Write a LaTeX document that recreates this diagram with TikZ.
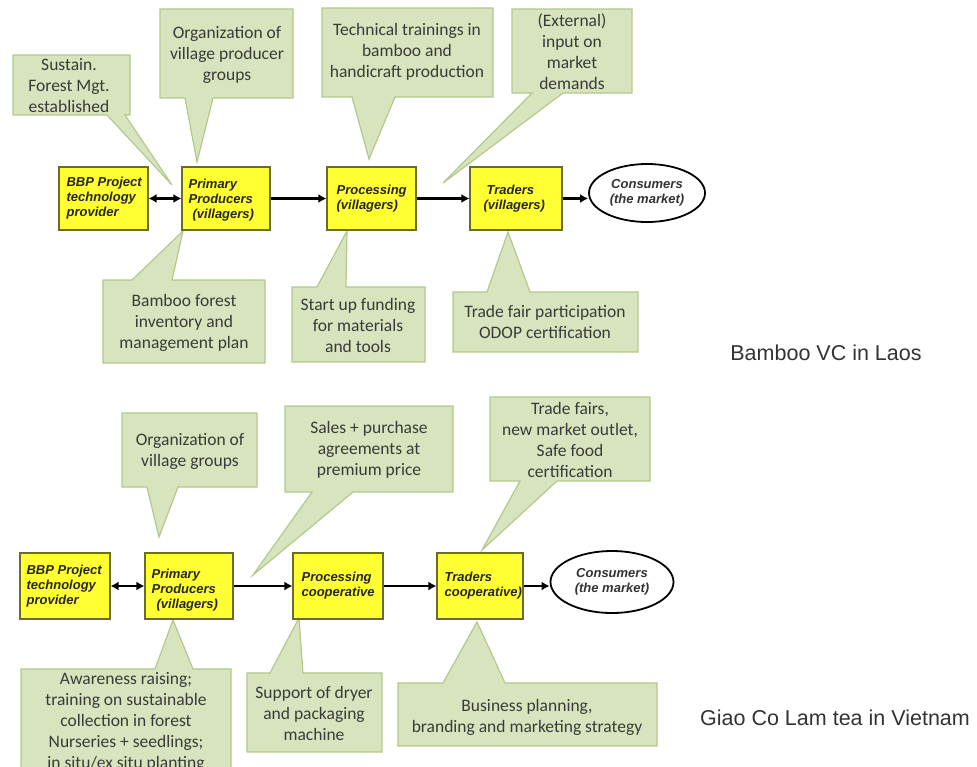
\documentclass[tikz,border=0pt]{standalone}
\usepackage{fontspec}
\setmainfont{Carlito}
\newfontfamily\arialf{Liberation Sans}
\usetikzlibrary{arrows.meta,shapes.geometric}
\definecolor{boxyellow}{HTML}{FFFF33}
\definecolor{boxborder}{HTML}{6B6B2A}
\definecolor{callfill}{HTML}{D7E4BD}
\definecolor{callborder}{HTML}{B3C98C}
\definecolor{calltext}{HTML}{3A3A3A}
\begin{document}
\begin{tikzpicture}[x=1pt,y=-1pt,
  vbox/.style={draw=boxborder, fill=boxyellow, line width=1.2pt, inner sep=0pt},
  vtext/.style={font=\arialf\bfseries\itshape\fontsize{13}{15}\selectfont, text=black!85, align=left, inner sep=0pt, anchor=west},
  callout/.style={fill=callfill, draw=callborder, line width=1.2pt, line join=miter},
  ctext/.style={font=\fontsize{17.5}{21}\selectfont, text=calltext, align=center, inner sep=0pt},
  flow/.style={line width=2.8pt, -{Latex[length=8pt,width=9pt]}},
  biflow/.style={line width=2.8pt, {Latex[length=8pt,width=9pt]}-{Latex[length=8pt,width=9pt]}},
  cons/.style={ellipse, draw=black, line width=1.8pt, fill=white, inner sep=0pt},
  constext/.style={font=\arialf\bfseries\itshape\fontsize{13}{15}\selectfont, text=black!80, align=center, inner sep=0pt},
  side/.style={font=\arialf\fontsize{21.5}{24}\selectfont, text=black!80, inner sep=0pt}
]
\useasboundingbox[fill=white] (0,0) rectangle (977,766);

% ---------- callouts, top diagram ----------
\draw[callout] (13,55) -- (130,55) -- (130,115) -- (125,115) -- (172,185) -- (107,115) -- (13,115) -- cycle;
\node[ctext] (c1) at (69,86) {Sustain.\\Forest Mgt.\\established};

\draw[callout] (160,9) -- (293,9) -- (293,98) -- (213,98) -- (197,162) -- (185,98) -- (160,98) -- cycle;
\node[ctext] (c2) at (227,55) {Organization of\\village producer\\groups};

\draw[callout] (322,8) -- (493,8) -- (493,97) -- (395,97) -- (369,159) -- (352,97) -- (322,97) -- cycle;
\node[ctext] (c3) at (407,52) {Technical trainings in\\bamboo and\\handicraft production};

\draw[callout] (512,9) -- (632,9) -- (632,93) -- (563,93) -- (443,183) -- (532,93) -- (512,93) -- cycle;
\node[ctext] (c4) at (572,52) {(External)\\input on\\market\\demands};

\draw[callout] (103,280) -- (132,280) -- (183,231) -- (172,280) -- (265,280) -- (265,363) -- (103,363) -- cycle;
\node[ctext] (c5) at (184,323) {Bamboo forest\\inventory and\\management plan};

\draw[callout] (292,287) -- (317,287) -- (347,231) -- (346,287) -- (425,287) -- (425,362) -- (292,362) -- cycle;
\node[ctext] (c6) at (358,325) {Start up funding\\for materials\\and tools};

\draw[callout] (453,292) -- (487,292) -- (508,232) -- (530,292) -- (638,292) -- (638,352) -- (453,352) -- cycle;
\node[ctext] (c7) at (545,322) {Trade fair participation\\ODOP certification};

% ---------- callouts, bottom diagram ----------
\draw[callout] (122,413) -- (257,413) -- (257,487) -- (178,487) -- (159,537) -- (147,487) -- (122,487) -- cycle;
\node[ctext] (d1) at (190,451) {Organization of\\village groups};

\draw[callout] (285,406) -- (453,406) -- (453,492) -- (353,492) -- (253,575) -- (312,492) -- (285,492) -- cycle;
\node[ctext] (d2) at (369,450) {Sales + purchase\\agreements at\\premium price};

\draw[callout] (490,397) -- (650,397) -- (650,481) -- (557,481) -- (482,550) -- (520,481) -- (490,481) -- cycle;
\node[ctext] (d3) at (570,440) {Trade fairs,\\new market outlet,\\Safe food\\certification};

\draw[callout] (21,669) -- (155,669) -- (173,620) -- (193,669) -- (231,669) -- (231,790) -- (21,790) -- cycle;
\node[ctext] (d4) at (126,722) {Awareness raising;\\training on sustainable\\collection in forest\\Nurseries + seedlings;\\in situ/ex situ planting};

\draw[callout] (247,673) -- (270,673) -- (299,618) -- (303,673) -- (382,673) -- (382,752) -- (247,752) -- cycle;
\node[ctext] (d5) at (314,713) {Support of dryer\\and packaging\\machine};

\draw[callout] (398,683) -- (443,683) -- (477,622) -- (505,683) -- (657,683) -- (657,746) -- (398,746) -- cycle;
\node[ctext] (d6) at (527,717) {Business planning,\\branding and marketing strategy};

% ---------- top value chain ----------
\node[vbox, minimum width=89pt, minimum height=63pt] (bbp1) at (103.5,198.5) {};
\node[vtext] (bbp1t) at ([xshift=8pt]bbp1.west) {BBP Project\\technology\\provider};
\node[vbox, minimum width=88pt, minimum height=63pt] (pp1) at (226,198.5) {};
\node[vtext] (pp1t) at ([xshift=7pt,yshift=-2pt]pp1.west) {Primary\\Producers\\\hspace*{4pt}(villagers)};
\node[vbox, minimum width=89pt, minimum height=63pt] (proc1) at (371.5,198.5) {};
\node[vtext] (proc1t) at ([xshift=10pt]proc1.west) {Processing\\(villagers)};
\node[vbox, minimum width=92pt, minimum height=63pt] (trad1) at (516,198.5) {};
\node[vtext] (trad1t) at ([xshift=14pt]trad1.west) {\hspace*{3pt}Traders\\(villagers)};
\node[cons, minimum width=116pt, minimum height=58pt] (cons1) at (647,193) {};
\node[constext] (cons1t) at (cons1) {Consumers\\(the market)};

\draw[biflow] (bbp1) -- (pp1);
\draw[flow] (pp1) -- (proc1);
\draw[flow] (proc1) -- (trad1);
\draw[flow] (trad1.east) -- (trad1.east -| cons1.west);

% ---------- bottom value chain ----------
\node[vbox, minimum width=90pt, minimum height=66pt] (bbp2) at (65,586) {};
\node[vtext] (bbp2t) at ([xshift=7pt]bbp2.west) {BBP Project\\technology\\provider};
\node[vbox, minimum width=88pt, minimum height=66pt] (pp2) at (189,586) {};
\node[vtext] (pp2t) at ([xshift=7pt,yshift=-4pt]pp2.west) {Primary\\Producers\\\hspace*{5pt}(villagers)};
\node[vbox, minimum width=90pt, minimum height=66pt] (proc2) at (338,586) {};
\node[vtext] (proc2t) at ([xshift=9pt]proc2.west) {Processing\\cooperative};
\node[vbox, minimum width=86pt, minimum height=66pt] (trad2) at (480,586) {};
\node[vtext] (trad2t) at ([xshift=8pt]trad2.west) {Traders\\cooperative)};
\node[cons, minimum width=123pt, minimum height=62pt] (cons2) at (612,582) {};
\node[constext] (cons2t) at (cons2) {Consumers\\(the market)};

\draw[biflow] (bbp2) -- (pp2);
\draw[flow] (pp2) -- (proc2);
\draw[flow] (proc2) -- (trad2);
\draw[flow] (trad2.east) -- (trad2.east -| cons2.west);

% ---------- side labels ----------
\node[side] (lbl1) at (826,353) {Bamboo VC in Laos};
\node[side] (lbl2) at (835,718) {Giao Co Lam tea in Vietnam};
\end{tikzpicture}
\end{document}
